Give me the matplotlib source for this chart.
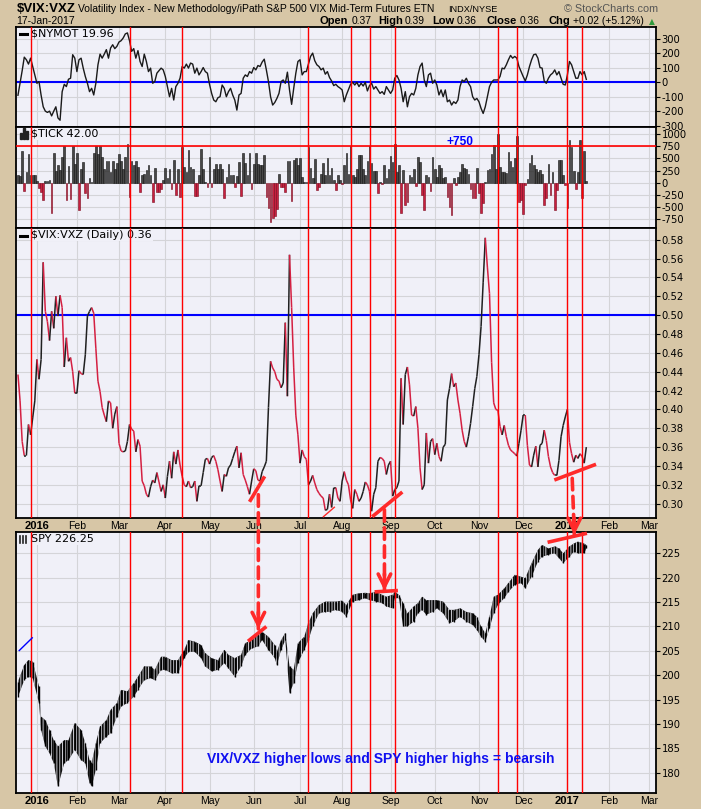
import numpy as np
import pandas as pd
import matplotlib
matplotlib.use("Agg")
import matplotlib.pyplot as plt
from matplotlib.collections import LineCollection
from matplotlib.patches import ConnectionPatch, Rectangle
from matplotlib.transforms import blended_transform_factory

plt.rcParams['axes.unicode_minus'] = False
plt.rcParams['hatch.linewidth'] = 0.6

# NYSE sessions, counted from 4-Jan-2016 = 0
holidays = ['2015-12-25', '2016-01-01', '2016-01-18', '2016-02-15', '2016-03-25',
            '2016-05-30', '2016-07-04', '2016-09-05', '2016-11-24', '2016-12-26',
            '2017-01-02', '2017-01-16', '2017-02-20']
cal = pd.bdate_range('2015-12-01', '2017-03-31', freq='C', holidays=holidays)
origin = cal.get_loc(pd.Timestamp('2016-01-04'))


def session(d):
    return cal.get_loc(cal[cal >= pd.Timestamp(d)][0]) - origin


# ---- data (daily, first value = session -9 = 18-Dec-2015) ----
first_session = -9

nymot = [-90, -7, 80, 174, 156, 126, 167, 110, 56, -7,
         5, -90, -170, -200, -209, -200, -233, -200, -170, -247,
         -263, -65, -14, -30, 21, 28, 191, 167, 74, 156,
         167, 98, 40, -7, -65, -42, -88, -7, 121, 195,
         167, 195, 226, 167, 237, 260, 233, 249, 279, 288,
         307, 335, 342, 288, 214, 233, 167, 219, 144, 109,
         195, 144, 74, 98, -7, 5, 63, 80, 98, 86,
         40, -30, -100, -42, -123, -30, -7, 28, 109, 98,
         126, 98, 133, 126, 63, 98, 51, 74, 102, 74,
         63, -14, -77, -123, -135, -107, -100, -19, -42, -100,
         -65, -42, -88, -123, -193, -88, -77, 28, 51, 40,
         74, 63, 102, 86, 116, 109, 140, 160, 86, 5,
         -100, -158, -140, -112, -77, 5, 16, -7, 70, -53,
         -153, -42, 63, 144, 156, 51, 74, 74, 126, 179,
         202, 149, 121, 109, 86, 98, 56, 74, 33, 9,
         -23, -14, -30, -40, -53, -135, -88, -50, -14, 0,
         -19, 0, -30, -7, -26, 0, -60, -23, -7, -47,
         -30, -53, -77, -65, -84, -30, -53, -77, -53, 28,
         47, 16, -42, -135, -65, -170, -100, -77, -88, -42,
         51, 109, 133, 16, -30, 51, 63, -7, 16, -19,
         -88, -53, -100, -53, -135, -123, -158, -135, -147, -123,
         -30, 16, 5, 28, -7, -30, -100, -123, -112, -135,
         -181, -216, -170, -100, -30, 0, 16, 16, 16, 40,
         98, 93, 121, 156, 186, 167, 179, 167, 109, 74,
         40, 9, 51, 109, 156, 191, 195, 167, 102, 98,
         9, -7, 28, 51, 63, 86, 51, 74, 28, -14,
         -19, 51, 144, 121, 74, 28, 28, 74, 51, 74, 20]

tick = [150, 130, 660, -160, 220, 580, 150, 150, 150, 30,
        -100, -190, -350, 40, 40, 50, -630, 600, 250, 360,
        270, 530, 760, -360, 340, -340, 760, 380, 610, -560,
        280, 430, -220, -310, 90, 20, 620, 760, 580, 760,
        530, 290, 450, 450, 230, 450, 290, 400, 580, 450,
        290, 530, 790, -290, 450, 360, 450, 330, -190, 160,
        170, 270, 360, 160, -400, 310, -190, -190, -120, 60,
        310, 90, 290, -120, 460, -250, 290, -290, 730, 330,
        230, 670, 330, 290, -270, -270, 160, 700, 290, 20,
        -80, 530, -80, 290, 380, 290, 380, 290, -320, 120,
        380, 160, 160, -80, 140, 420, -270, 600, 400, 160,
        600, -120, 380, 600, 380, 360, 360, 570, -290, -510,
        -800, -730, -680, -530, 170, -80, -80, -190, 450, 450,
        -380, 470, 500, 360, 500, 120, 20, 10, 730, 310,
        90, 480, -140, -80, 170, 400, 160, 510, 160, 310,
        60, -140, 160, 60, -30, 360, 620, 170, 760, 160,
        120, 290, 570, 570, 290, 160, 450, 760, 400, 240,
        240, -220, 20, -30, 360, 90, 290, 550, 430, 790,
        230, 360, -630, 260, -460, -390, 160, 120, 290, -70,
        530, 420, -250, -560, 160, 120, -170, 530, 290, 120,
        360, 310, 90, 120, -290, -490, -660, 90, -50, 120,
        230, 380, 310, 290, 170, -120, -320, -320, 310, -220,
        -630, -420, 20, 260, 280, 580, 770, 290, 990, 330,
        230, 230, 190, 640, 450, 330, 500, 960, -390, -360,
        -650, -50, 80, 400, 570, 360, 290, 230, 260, 170,
        -450, -320, 380, -250, 230, -560, -150, 470, 470, 160,
        -50, -510, 880, 740, 240, -130, 230, 880, -320, 650, 42]

vix_vxz = [0.437, 0.409, 0.366, 0.351, 0.351, 0.384, 0.373, 0.391, 0.409, 0.453,
           0.432, 0.453, 0.556, 0.504, 0.493, 0.473, 0.504, 0.486, 0.520, 0.499,
           0.521, 0.508, 0.445, 0.476, 0.451, 0.455, 0.440, 0.417, 0.417, 0.441,
           0.438, 0.437, 0.458, 0.499, 0.504, 0.508, 0.502, 0.465, 0.430, 0.419,
           0.402, 0.394, 0.387, 0.409, 0.407, 0.380, 0.395, 0.403, 0.364, 0.356,
           0.355, 0.356, 0.366, 0.384, 0.379, 0.377, 0.355, 0.368, 0.361, 0.324,
           0.319, 0.310, 0.307, 0.318, 0.325, 0.322, 0.333, 0.323, 0.313, 0.320,
           0.306, 0.329, 0.345, 0.327, 0.355, 0.342, 0.357, 0.341, 0.329, 0.320,
           0.318, 0.324, 0.317, 0.318, 0.324, 0.3025, 0.319, 0.319, 0.333, 0.347,
           0.348, 0.342, 0.349, 0.351, 0.345, 0.336, 0.324, 0.313, 0.331, 0.329,
           0.338, 0.341, 0.348, 0.355, 0.361, 0.338, 0.354, 0.331, 0.325, 0.318,
           0.310, 0.324, 0.337, 0.335, 0.325, 0.324, 0.334, 0.339, 0.345, 0.402,
           0.451, 0.444, 0.440, 0.432, 0.430, 0.423, 0.428, 0.492, 0.414, 0.564,
           0.508, 0.444, 0.394, 0.373, 0.343, 0.357, 0.350, 0.347, 0.320, 0.324,
           0.330, 0.322, 0.315, 0.311, 0.308, 0.306, 0.293, 0.294, 0.310, 0.296,
           0.317, 0.317, 0.306, 0.3025, 0.324, 0.334, 0.325, 0.320, 0.304, 0.295,
           0.315, 0.310, 0.3025, 0.306, 0.313, 0.323, 0.320, 0.313, 0.292, 0.310,
           0.317, 0.345, 0.349, 0.348, 0.345, 0.331, 0.341, 0.345, 0.308, 0.315,
           0.317, 0.324, 0.433, 0.384, 0.437, 0.445, 0.426, 0.394, 0.393, 0.403,
           0.380, 0.338, 0.315, 0.320, 0.375, 0.343, 0.366, 0.369, 0.352, 0.364,
           0.350, 0.345, 0.360, 0.363, 0.410, 0.422, 0.438, 0.424, 0.428, 0.410,
           0.396, 0.378, 0.366, 0.360, 0.371, 0.385, 0.403, 0.422, 0.435, 0.458,
           0.488, 0.535, 0.582, 0.551, 0.523, 0.450, 0.407, 0.400, 0.399, 0.382,
           0.373, 0.383, 0.371, 0.362, 0.357, 0.355, 0.353, 0.3505, 0.364, 0.378,
           0.394, 0.394, 0.362, 0.341, 0.339, 0.3515, 0.361, 0.339, 0.362, 0.364,
           0.378, 0.367, 0.350, 0.339, 0.333, 0.330, 0.330, 0.346, 0.371, 0.383,
           0.392, 0.400, 0.365, 0.353, 0.344, 0.3515, 0.348, 0.353, 0.350, 0.343, 0.360]

# SPY price range, read every 2-3 sessions
spy_session = [-9, -6, -4, -2, 1, 2, 4, 6, 8, 10, 13, 15, 18, 21, 23, 25, 26, 28, 30, 33,
               35, 38, 40, 43, 46, 48, 51, 54, 56, 59, 61, 64, 67, 70, 72, 75, 78, 80, 83, 86,
               89, 91, 94, 97, 99, 102, 105, 107, 110, 113, 114, 116, 118, 120, 122, 124, 127, 129, 131, 134,
               137, 139, 142, 145, 147, 150, 153, 156, 158, 161, 164, 166, 169, 170, 172, 174, 176, 179, 181, 183,
               185, 188, 190, 193, 196, 198, 201, 204, 207, 209, 211, 213, 215, 217, 219, 222, 224, 227, 230, 232,
               235, 238, 240, 243, 246, 248, 250, 253, 255, 257, 260, 261]
spy_high = [198.7, 202.1, 203.1, 202.8, 197.7, 191.5, 190.8, 188.8, 186.7, 185.4,
            186.7, 186.7, 190.2, 188.8, 186.1, 182.6, 182.0, 186.1, 189.5, 190.8,
            192.9, 194.3, 197.0, 196.7, 198.4, 199.7, 201.8, 201.8, 201.1, 203.8,
            203.8, 203.1, 203.1, 205.2, 207.2, 206.9, 206.2, 204.5, 203.5, 203.1,
            205.2, 204.2, 203.5, 204.2, 206.6, 207.2, 208.3, 208.9, 207.9, 206.2,
            204.8, 207.2, 208.7, 201.8, 201.1, 206.6, 207.9, 210.7, 212.7, 214.4,
            215.1, 215.1, 215.1, 215.3, 214.4, 216.5, 216.8, 216.9, 216.8, 217.1,
            216.5, 216.1, 216.5, 217.1, 216.5, 214.8, 212.7, 214.1, 214.8, 216.1,
            215.4, 215.4, 215.4, 215.1, 213.4, 213.4, 213.7, 213.0, 212.7, 212.0,
            210.0, 208.6, 212.0, 216.1, 216.5, 217.8, 218.9, 220.6, 220.2, 219.9,
            223.0, 225.7, 226.7, 226.0, 226.4, 226.0, 225.0, 226.4, 227.0, 227.4,
            227.0, 226.7]
spy_low = [195.6, 199.0, 199.7, 199.4, 194.3, 188.8, 185.4, 184.0, 182.0, 177.2,
           182.0, 182.6, 184.7, 182.6, 182.0, 177.9, 177.2, 180.6, 186.1, 187.4,
           188.1, 191.5, 193.6, 194.3, 195.6, 197.0, 199.0, 199.4, 199.0, 201.1,
           201.1, 200.4, 200.4, 203.5, 204.8, 204.8, 203.5, 201.8, 200.8, 201.1,
           202.5, 201.4, 199.7, 201.8, 204.2, 205.5, 205.9, 207.2, 205.2, 203.5,
           202.1, 205.2, 207.2, 196.3, 198.4, 202.5, 205.2, 207.2, 210.0, 212.7,
           213.0, 213.0, 213.4, 213.0, 212.0, 215.1, 215.4, 215.8, 215.4, 215.1,
           214.8, 214.1, 213.7, 215.8, 215.8, 210.0, 210.0, 211.0, 212.7, 213.4,
           212.4, 213.0, 213.7, 212.7, 210.7, 211.0, 212.0, 211.0, 210.3, 209.3,
           207.9, 206.9, 209.6, 212.7, 214.4, 215.8, 217.1, 218.5, 218.9, 217.8,
           220.2, 223.3, 224.3, 224.7, 225.0, 224.0, 223.0, 224.3, 225.3, 225.0,
           225.0, 226.0]

month_starts = ['2016-01-01', '2016-02-01', '2016-03-01', '2016-04-01', '2016-05-01',
                '2016-06-01', '2016-07-01', '2016-08-01', '2016-09-01', '2016-10-01',
                '2016-11-01', '2016-12-01', '2017-01-01', '2017-02-01', '2017-03-01']
month_labels = ['2016', 'Feb', 'Mar', 'Apr', 'May', 'Jun', 'Jul', 'Aug', 'Sep', 'Oct',
                'Nov', 'Dec', '2017', 'Feb', 'Mar']

red_dates = ['2015-12-29', '2016-03-08', '2016-04-13', '2016-07-08', '2016-08-05',
             '2016-08-18', '2016-09-06', '2016-11-14', '2016-11-28', '2017-01-03',
             '2017-01-12']

nymot_ticks = [300, 200, 100, 0, -100, -200, -300]
tick_ticks = [1000, 750, 500, 250, 0, -250, -500, -750]
vix_ticks = [0.30, 0.32, 0.34, 0.36, 0.38, 0.40, 0.42, 0.44, 0.46, 0.48, 0.50,
             0.52, 0.54, 0.56, 0.58]
spy_ticks = [180, 185, 190, 195, 200, 205, 210, 215, 220, 225]

# hand-drawn annotations (session, value)
vix_trendlines = [((101.0, 0.302), (108.2, 0.329)),
                  ((159.3, 0.2862), (173.6, 0.3124)),
                  ((245.8, 0.3251), (265.6, 0.3418))]
vix_thin_line = ((136.1, 0.2862), (141.3, 0.2962))
spy_trendlines = [((100.3, 206.97), (109.0, 209.98)),
                  ((160.4, 217.09), (171.5, 217.36)),
                  ((242.6, 227.25), (261.3, 229.1))]
spy_blue_line = ((-8.4, 205.06), (-2.2, 207.67))
arrows = [((105.2, 0.3095), (105.2, 209.5)),
          ((165.1, 0.2936), (165.1, 217.36)),
          ((254.3, 0.3269), (255.3, 228.8))]

# ---- style ----
TAN = '#D7C6A6'
PANEL = '#F0F0F8'
GRID = '#D4D4D8'
RED = '#FF0000'
ANN = '#FF2A2A'
BLUE = '#0000FF'

W, H = 701, 809
fig = plt.figure(figsize=(W / 100, H / 100), dpi=100, facecolor=TAN)


def box(top, bottom):
    return [16 / W, 1 - bottom / H, 640 / W, (bottom - top) / H]


ax_ny = fig.add_axes(box(26.7, 127.3))
ax_tk = fig.add_axes(box(127.3, 228.3))
ax_vx = fig.add_axes(box(228.3, 518.3))
ax_sp = fig.add_axes(box(532.3, 793.3))

days = np.arange(first_session, first_session + len(nymot))
month_pos = [session(d) for d in month_starts]
red_pos = [session(d) for d in red_dates]


def style(ax, ticks, lim, fmt):
    ax.set_facecolor(PANEL)
    ax.set_xlim(-9.93, 294.1)
    ax.set_ylim(*lim)
    ax.set_xticks(month_pos)
    ax.set_yticks(ticks)
    ax.set_yticklabels([fmt.format(v) for v in ticks])
    ax.yaxis.tick_right()
    ax.tick_params(axis='y', direction='out', length=3, width=0.8, pad=1,
                   labelsize=7.2)
    ax.tick_params(axis='x', length=0, labelbottom=False)
    ax.grid(True, color=GRID, lw=0.8)
    ax.set_axisbelow(True)
    for s in ax.spines.values():
        s.set_linewidth(1.3)
    for r in red_pos:
        ax.axvline(r, color=RED, lw=1.0, zorder=3)


style(ax_ny, nymot_ticks, (-312, 385), '{:d}')
style(ax_tk, tick_ticks, (-935, 1137), '{:d}')
style(ax_vx, vix_ticks, (0.2845, 0.5921), '{:.2f}')
style(ax_sp, spy_ticks, (175.8, 229.3), '{:d}')

# NYMOT
ax_ny.axhline(0, color=BLUE, lw=1.5, zorder=2)
ax_ny.plot(days, nymot, color='#1A1A1A', lw=1.0, zorder=2.5)

# TICK
tick_arr = np.array(tick)
pos = tick_arr >= 0
ax_tk.bar(days[pos], tick_arr[pos], width=0.8, color='#474747',
          edgecolor='#111111', lw=0.4, zorder=2)
ax_tk.bar(days[~pos], tick_arr[~pos], width=0.8, color='#C8203F',
          edgecolor='#7A0A1E', lw=0.4, zorder=2)
ax_tk.axhline(750, color=RED, lw=1.2, zorder=3)
ax_tk.text(0.694, 0.859, '+750', transform=ax_tk.transAxes, color=BLUE,
           fontsize=8.6, weight='bold', family='Liberation Sans',
           ha='center', va='center', zorder=5)

# VIX:VXZ, red on down days, black on up days
pts = np.column_stack([days, vix_vxz])
segs = np.stack([pts[:-1], pts[1:]], axis=1)
cols = np.where(np.diff(vix_vxz) < 0, '#D42042', '#202020')
ax_vx.add_collection(LineCollection(segs, colors=cols, linewidths=1.1, zorder=2.5))
ax_vx.axhline(0.50, color=BLUE, lw=1.5, zorder=2)

for (x0, y0), (x1, y1) in vix_trendlines:
    ax_vx.plot([x0, x1], [y0, y1], color=ANN, lw=2.6, zorder=6,
               solid_capstyle='butt', clip_on=False)
(x0, y0), (x1, y1) = vix_thin_line
ax_vx.plot([x0, x1], [y0, y1], color=ANN, lw=1.0, zorder=6)

# SPY high-low band, striped to read as dense daily bars
ax_sp.fill_between(spy_session, spy_low, spy_high, facecolor='#111111',
                   edgecolor=PANEL, hatch='||||||', lw=0, zorder=2.5)
ax_sp.vlines(spy_session, spy_low, spy_high, color='black', lw=1.0, zorder=2.6)
for (x0, y0), (x1, y1) in spy_trendlines:
    ax_sp.plot([x0, x1], [y0, y1], color=ANN, lw=2.6, zorder=6,
               solid_capstyle='butt', clip_on=False)
(x0, y0), (x1, y1) = spy_blue_line
ax_sp.plot([x0, x1], [y0, y1], color=BLUE, lw=1.0, zorder=6)
ax_sp.text(0.57, 0.118, 'VIX/VXZ higher lows and SPY higher highs = bearsih',
           transform=ax_sp.transAxes, color='#1010F0', fontsize=10,
           weight='bold', family='Liberation Sans', ha='center', va='baseline',
           zorder=6)

# dashed arrows from VIX:VXZ down to SPY
for (xa, ya), (xb, yb) in arrows:
    con = ConnectionPatch(xyA=(xa, ya), coordsA=ax_vx.transData,
                          xyB=(xb, yb), coordsB=ax_sp.transData,
                          color=ANN, lw=2.6, linestyle=(0, (3.2, 1.8)),
                          zorder=8)
    fig.add_artist(con)
    ax_sp.annotate('', xy=(xb, yb), xytext=(0, 12), textcoords='offset points',
                   arrowprops=dict(arrowstyle='->,head_length=0.9,head_width=0.45',
                                   color=ANN, lw=2.6, shrinkA=0, shrinkB=0),
                   zorder=9, annotation_clip=False)

# month labels under VIX panel and SPY panel
for ax, ybase in [(ax_vx, -0.037), (ax_sp, -0.041)]:
    tr = blended_transform_factory(ax.transData, ax.transAxes)
    for xp, lab in zip(month_pos, month_labels):
        bold = lab.isdigit()
        ax.text(xp, ybase, lab, transform=tr, ha='center', va='baseline',
                fontsize=8 if bold else 7.5, weight='bold' if bold else 'normal',
                family='Liberation Sans', clip_on=False)

# panel legends
legend_font = dict(fontsize=8, family='DejaVu Sans', va='center', zorder=2.8,
                   bbox=dict(facecolor=PANEL, edgecolor='none', pad=0.5))
ax_ny.text(0.024, 0.934, '$NYMOT 19.96', transform=ax_ny.transAxes, **legend_font)
ax_ny.plot([0.007, 0.017], [0.93, 0.93], transform=ax_ny.transAxes, color='k', lw=2.2)
ax_tk.text(0.024, 0.934, '$TICK 42.00', transform=ax_tk.transAxes, **legend_font)
for k, hgt in enumerate([0.06, 0.11, 0.08]):
    ax_tk.add_patch(Rectangle((0.006 + 0.0045 * k, 0.885), 0.0032, hgt,
                              transform=ax_tk.transAxes, color='#222222'))
ax_vx.text(0.024, 0.976, '$VIX:VXZ (Daily) 0.36', transform=ax_vx.transAxes,
           **legend_font)
ax_vx.plot([0.007, 0.017], [0.975, 0.975], transform=ax_vx.transAxes, color='k', lw=2.2)
ax_sp.text(0.024, 0.974, 'SPY 226.25', transform=ax_sp.transAxes, **legend_font)
for k in range(3):
    ax_sp.plot([0.007 + 0.004 * k] * 2, [0.96, 0.985], transform=ax_sp.transAxes,
               color='#222222', lw=1.2)

# header


def ftext(x, y, s, **kw):
    fig.text(x / W, 1 - y / H, s, va='baseline', **kw)


hdr = dict(family='Liberation Sans')
ftext(16.5, 11.5, '$VIX:VXZ', fontsize=9.5, weight='bold', **hdr)
ftext(78, 11.5, 'Volatility Index - New Methodology/iPath S&P 500 VIX Mid-Term Futures ETN',
      fontsize=7.5, **hdr)
ftext(448, 11.5, 'INDX/NYSE', fontsize=6.6, **hdr)
ftext(564, 11.5, '\u00a9 StockCharts.com', fontsize=7.8, color='#555555', **hdr)
ftext(16.5, 24.5, '17-Jan-2017', fontsize=7.5, **hdr)
quote = [(319.6, 'Open', True), (351.8, '0.37', False), (378.6, 'High', True),
         (404.6, '0.39', False), (432.7, 'Low', True), (456.9, '0.36', False),
         (486.4, 'Close', True), (519.4, '0.36', False), (548.5, 'Chg', True),
         (573.1, '+0.02 (+5.12%)', False)]
for xq, s, bold in quote:
    ftext(xq, 24.5, s, fontsize=8 if bold else 7.4,
          weight='bold' if bold else 'normal', **hdr)
ftext(649, 24, '\u25b2', fontsize=5.5, color='#2E9A3C', family='DejaVu Sans')

fig.savefig('out.png', dpi=100, facecolor=TAN)
